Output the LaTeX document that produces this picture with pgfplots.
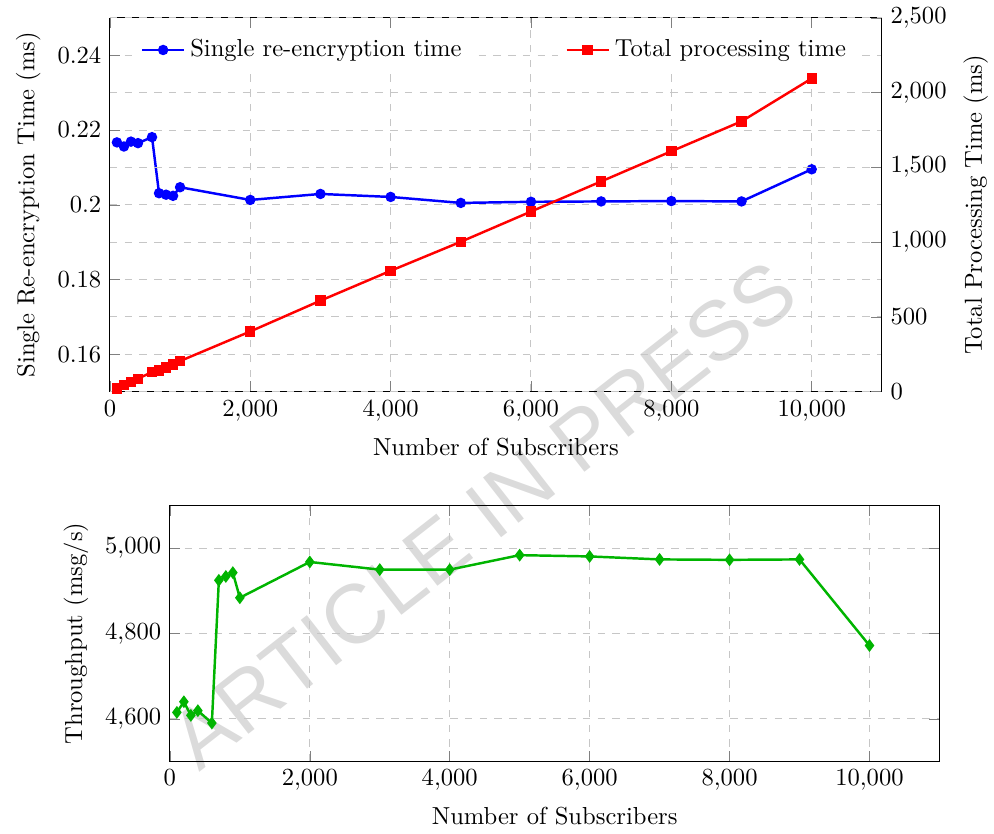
\documentclass[border=0pt]{standalone}
\usepackage{fontspec}
\usepackage{pgfplots}
\pgfplotsset{compat=1.18}
\newfontfamily\wmfont{Liberation Sans}
\definecolor{mygreen}{RGB}{0,180,0}
\begin{document}
\begin{tikzpicture}
\useasboundingbox (-44.7pt,159.3pt) rectangle (359.6pt,-179.9pt);
\pgfplotsset{
  every axis/.append style={scale only axis, scaled ticks=false},
  grid style={dashed, gray!45},
}
\node[overlay, rotate=38, text=black!14, inner sep=0pt] at (152pt,-50pt) {\wmfont\fontsize{34}{34}\selectfont ARTICLE IN PRESS};
\begin{axis}[name=top, width=314pt, height=152pt,
  xmin=0, xmax=11000, ymin=0.15, ymax=0.25,
  axis y line*=left,
  xtick={0,2000,4000,6000,8000,10000},
  ytick={0.16,0.18,0.20,0.22,0.24},
  grid=major,
  xlabel={Number of Subscribers},
  ylabel={Single Re-encryption Time (ms)},
  legend style={at={(0.03,0.97)}, anchor=north west, draw=none, fill=white},
  legend cell align=left]
\addplot[blue, mark=*, line width=1pt, mark size=1.6pt] coordinates {
(100,0.2167) (200,0.2156) (300,0.2169) (400,0.2165) (600,0.2181)
(700,0.2031) (800,0.2027) (900,0.2024) (1000,0.2047)
(2000,0.2013) (3000,0.2029) (4000,0.2021) (5000,0.2005) (6000,0.2008)
(7000,0.2009) (8000,0.2010) (9000,0.2009) (10000,0.2095)};
\addlegendentry{Single re-encryption time}
\end{axis}
\begin{axis}[width=314pt, height=152pt,
  xmin=0, xmax=11000, ymin=0, ymax=2500,
  axis y line*=right, axis x line=none,
  ytick={0,500,1000,1500,2000,2500},
  ymajorgrids,
  ylabel={Total Processing Time (ms)},
  legend style={at={(0.97,0.97)}, anchor=north east, draw=none, fill=white},
  legend cell align=left]
\addplot[red, mark=square*, line width=1pt, mark size=1.6pt] coordinates {
(100,21.7) (200,43.1) (300,65.1) (400,86.6) (600,130.9)
(700,142.2) (800,162.2) (900,182.2) (1000,204.7)
(2000,402.6) (3000,608.7) (4000,808.4) (5000,1002.5) (6000,1204.8)
(7000,1406.3) (8000,1608) (9000,1808.1) (10000,2095)};
\addlegendentry{Total processing time}
\end{axis}
\begin{axis}[at={(24.4pt,-46.4pt)}, anchor=north west,
  width=313pt, height=104pt,
  xmin=0, xmax=11000, ymin=4500, ymax=5100,
  xtick={0,2000,4000,6000,8000,10000},
  ytick={4600,4800,5000},
  grid=major,
  xlabel={Number of Subscribers},
  ylabel={Throughput (msg/s)}]
\addplot[mygreen, mark=diamond*, line width=1pt, mark size=1.8pt] coordinates {
(100,4615) (200,4640) (300,4608) (400,4619) (600,4590)
(700,4925) (800,4934) (900,4943) (1000,4884)
(2000,4968) (3000,4950) (4000,4950) (5000,4984) (6000,4981)
(7000,4974) (8000,4973) (9000,4974) (10000,4772)};
\end{axis}
\end{tikzpicture}
\end{document}
